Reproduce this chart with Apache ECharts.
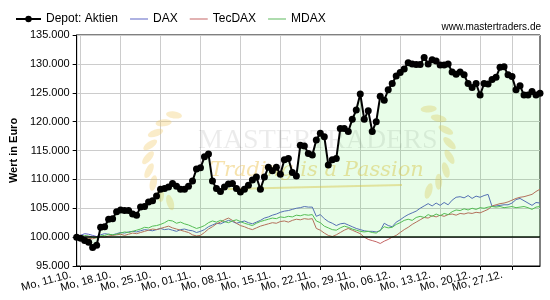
<!DOCTYPE html>
<html>
<head>
<meta charset="utf-8">
<script src="https://cdn.jsdelivr.net/npm/echarts@6/dist/echarts.min.js"></script>
<style>
html, body { margin: 0; padding: 0; background: #fff; }
#chart { width: 550px; height: 300px; }
</style>
</head>
<body>
<div id="chart"></div>
<script>
// Werte in Tausend Euro, zwei Punkte je Handelstag (Start = 100.000)
var depot = [
	100.0, 99.8, 99.4, 99.1, 98.2, 98.6, 101.7, 101.8, 103.1, 103.2,
	104.4, 104.7, 104.6, 104.6, 104.0, 103.8, 105.2, 105.3, 106.1, 106.3,
	107.1, 108.3, 108.4, 108.7, 109.3, 108.8, 108.3, 108.3, 108.8, 109.7,
	111.8, 112.0, 113.9, 114.4, 109.7, 108.4, 107.9, 108.7, 109.2, 109.3,
	108.4, 107.8, 108.3, 109.0, 109.9, 110.4, 108.3, 110.4, 112.1, 111.5,
	112.1, 110.9, 113.4, 113.6, 111.2, 110.6, 115.9, 115.8, 114.5, 114.2,
	116.8, 118.0, 117.4, 112.5, 113.4, 113.6, 118.8, 118.8, 118.3, 120.4,
	122.0, 124.8, 120.4, 121.9, 118.3, 120.0, 124.4, 123.7, 125.5, 126.6,
	127.9, 128.5, 129.1, 130.2, 130.0, 129.9, 129.9, 131.1, 130.0, 130.7,
	130.5, 129.8, 129.8, 130.0, 128.6, 128.2, 128.6, 128.1, 126.6, 125.9,
	126.6, 124.6, 126.6, 126.5, 127.3, 127.7, 129.4, 129.5, 128.1, 127.8,
	125.5, 126.2, 124.6, 124.6, 125.2, 124.6, 124.9
];
var dax = [
	100.0, 100.3, 100.6, 100.5, 100.3, 100.1, 100.4, 100.6, 100.5, 100.4,
	100.6, 100.8, 100.7, 100.9, 101.0, 100.9, 101.1, 101.3, 101.2, 101.1,
	101.3, 101.5, 101.3, 101.4, 101.2, 101.0, 101.3, 101.4, 101.2, 101.1,
	100.8, 101.0, 101.3, 101.8, 102.1, 102.4, 102.3, 102.6, 102.9, 102.7,
	102.4, 102.6, 102.8, 102.5, 102.3, 102.6, 102.9, 103.3, 103.5, 103.8,
	104.0, 104.3, 104.5, 104.6, 104.8, 105.0, 105.1, 105.3, 105.2, 105.2,
	103.6, 103.9, 103.2, 102.7, 102.4, 102.0, 102.3, 102.4, 102.1, 101.8,
	101.5, 101.3, 101.1, 101.0, 101.0, 100.9, 101.1, 102.4, 102.0, 101.8,
	102.6, 103.0, 103.5, 103.9, 104.2, 104.5, 105.0, 105.4, 105.8, 105.4,
	105.9, 105.5, 106.0, 105.6, 106.4, 106.9, 107.0, 106.8, 107.2, 106.7,
	107.1, 106.9, 107.2, 107.4, 105.3, 105.4, 105.5, 105.6, 105.6, 105.9,
	106.5, 106.7, 106.3, 105.9, 105.5, 106.0, 105.9
];
var tecdax = [
	100.0, 99.8, 99.6, 99.8, 99.7, 99.9, 100.1, 100.0, 100.2, 100.3,
	100.4, 100.5, 100.3, 100.5, 100.7, 100.6, 100.8, 101.0, 101.2, 101.4,
	101.3, 101.5, 101.7, 101.9, 101.6, 101.4, 101.2, 101.0, 100.8, 100.4,
	100.2, 100.3, 100.8, 101.4, 101.8, 102.3, 102.6, 103.0, 103.3, 102.9,
	102.4, 102.0, 101.8, 101.5, 101.3, 101.6, 101.9, 102.1, 102.3, 102.5,
	102.4, 102.7, 102.8, 102.6, 102.9, 103.1, 103.0, 103.2, 103.1, 103.2,
	101.5, 101.2, 100.7, 100.3, 100.1, 100.4, 100.8, 101.2, 101.5, 101.2,
	100.9, 100.6, 100.0, 99.6, 99.4, 99.2, 98.9, 99.3, 99.6, 100.0,
	100.3, 100.8, 101.3, 101.7, 102.2, 102.6, 103.0, 103.4, 103.3, 103.7,
	103.5, 103.8, 103.6, 103.9, 104.0, 103.8, 104.1, 104.0, 104.2, 104.1,
	104.3, 104.2, 104.5, 104.8, 105.4, 105.6, 105.8, 105.9, 106.1, 106.4,
	106.7, 106.9, 107.0, 107.2, 107.4, 107.9, 108.3
];
var mdax = [
	100.0, 100.1, 100.3, 100.2, 100.0, 99.9, 100.2, 100.3, 100.5, 100.4,
	100.5, 100.7, 100.9, 100.8, 101.0, 101.2, 101.4, 101.7, 101.6, 101.9,
	102.0, 102.2, 102.5, 102.9, 102.8, 102.4, 102.6, 102.3, 102.1, 101.8,
	101.5, 101.7, 102.0, 102.5, 102.8, 102.6, 102.9, 102.7, 102.5, 102.8,
	103.0, 102.7, 102.4, 102.2, 102.0, 102.4, 102.7, 102.9, 103.1, 103.3,
	103.2, 103.5, 103.4, 103.6, 103.5, 103.8, 103.7, 103.9, 103.8, 103.9,
	102.8, 102.5, 101.9, 101.6, 101.3, 101.2, 101.6, 101.9, 101.7, 101.4,
	101.2, 101.0, 100.9, 101.0, 100.8, 100.7, 101.2, 101.8, 101.6, 101.7,
	102.2, 102.5, 102.9, 103.1, 102.9, 103.4, 103.6, 103.4, 103.9, 103.6,
	104.0, 103.7, 104.1, 103.9, 104.4, 104.7, 104.6, 104.9, 104.7, 105.0,
	104.8, 105.1, 105.0, 105.2, 105.3, 105.2, 105.3, 105.1, 105.2, 105.3,
	105.1, 105.2, 105.3, 105.1, 104.8, 105.2, 105.3
];
// Montage als Handelstag-Index, mit Beschriftung
var tickDays = [0, 5, 10, 15, 20, 25, 30, 35, 40, 45, 50, 54];
var tickLabels = ['Mo, 11.10.', 'Mo, 18.10.', 'Mo, 25.10.', 'Mo, 01.11.', 'Mo, 08.11.', 'Mo, 15.11.',
	'Mo, 22.11.', 'Mo, 29.11.', 'Mo, 06.12.', 'Mo, 13.12.', 'Mo, 20.12.', 'Mo, 27.12.'];
var yTicks = [95, 100, 105, 110, 115, 120, 125, 130, 135];

var tickPos = tickDays.map(function(d){ return d * 2 + 1; });
// Beschriftungen abwechselnd auf zwei Achsen, damit keine ausgeblendet wird
var labelPosA = tickPos.filter(function(p, i){ return i % 2 === 0; });
var labelPosB = tickPos.filter(function(p, i){ return i % 2 === 1; });

function toPoints(arr){
	return arr.map(function(v, i){ return [i, v]; });
}

// Lorbeerblaetter fuer das Wasserzeichen
function laurel(cx, cy, r, a0, a1, n, flip){
	var out = [];
	for (var i = 0; i < n; i++) {
		var a = (a0 + (a1 - a0) * i / (n - 1)) * Math.PI / 180;
		out.push({
			type: 'ellipse',
			silent: true,
			z: 1,
			x: cx + r * Math.cos(a),
			y: cy - r * Math.sin(a),
			rotation: a + (flip ? -0.9 : 0.9),
			shape: { cx: 0, cy: 0, rx: 8, ry: 3.5 },
			style: { fill: 'rgba(240,200,100,0.35)' }
		});
	}
	return out;
}

var font = 'Liberation Sans, Arial, sans-serif';
var lineIcon = 'path://M0,0L0,0M7,3.5L25,3.5L25,4.5L7,4.5ZM25,8L25,8';

var graphics = [{
	type: 'text',
	right: 9,
	top: 22,
	style: { text: 'www.mastertraders.de', font: '10px ' + font, fill: '#000' }
}, {
	type: 'text',
	left: 198,
	top: 127,
	z: 1,
	silent: true,
	style: { text: 'MASTERTRADERS', font: '28px "Liberation Serif", serif', fill: 'rgba(0,0,0,0.08)' }
}, {
	type: 'text',
	left: 210,
	top: 160,
	z: 1,
	silent: true,
	style: { text: 'Trading is a Passion', font: 'italic 21px "DejaVu Serif", serif', fill: 'rgba(235,190,70,0.45)' }
}, {
	type: 'line',
	z: 1,
	silent: true,
	shape: { x1: 228, y1: 189, x2: 402, y2: 185 },
	style: { stroke: 'rgba(235,190,70,0.45)', lineWidth: 2 }
}];
graphics = graphics.concat(laurel(200, 160, 52, 120, 235, 9, false));
graphics = graphics.concat(laurel(400, 150, 50, 55, -55, 8, true));

function labelText(v){
	return tickLabels[tickPos.indexOf(v)] || '';
}

var xLabelBase = {
	interval: 0,
	showMinLabel: true,
	showMaxLabel: true,
	hideOverlap: false,
	rotate: 15,
	fontSize: 11,
	color: '#000',
	margin: 6,
	padding: [0, 10, 0, 0],
	formatter: labelText
};

var myChart = echarts.init(document.getElementById('chart'));
var option = {
	animation: false,
	textStyle: { fontFamily: font },
	legend: {
		left: 10,
		top: 8,
		itemWidth: 25,
		itemHeight: 8,
		itemGap: 5,
		textStyle: { fontSize: 12, color: '#000', fontFamily: font },
		data: [
			{ name: 'Depot: Aktien' },
			{ name: 'DAX', icon: lineIcon },
			{ name: 'TecDAX', icon: lineIcon },
			{ name: 'MDAX', icon: lineIcon }
		]
	},
	grid: {
		left: 66,
		right: 10,
		top: 35,
		bottom: 34,
		show: true,
		borderColor: '#000',
		borderWidth: 1
	},
	graphic: graphics,
	xAxis: [{
		type: 'value',
		position: 'bottom',
		min: 0,
		max: depot.length - 1,
		axisLine: { lineStyle: { color: '#000', width: 1 } },
		axisTick: {
			show: true,
			length: 4,
			customValues: tickPos,
			lineStyle: { color: '#000' }
		},
		axisLabel: Object.assign({ customValues: labelPosA }, xLabelBase),
		splitLine: { show: true, lineStyle: { color: '#cccccc' } }
	}, {
		type: 'value',
		position: 'bottom',
		offset: 0,
		min: 0,
		max: depot.length - 1,
		axisLine: { show: false },
		axisTick: { show: false, customValues: labelPosB },
		axisLabel: Object.assign({ customValues: labelPosB }, xLabelBase),
		splitLine: { show: false }
	}],
	yAxis: {
		type: 'value',
		min: yTicks[0],
		max: yTicks[yTicks.length - 1],
		interval: 5,
		name: 'Wert in Euro',
		nameLocation: 'middle',
		nameGap: 48,
		nameTextStyle: { fontWeight: 'bold', fontSize: 11, color: '#000' },
		axisLine: { show: true, lineStyle: { color: '#000', width: 1 } },
		axisTick: { show: true, length: 4, lineStyle: { color: '#000' } },
		axisLabel: {
			fontSize: 11,
			color: '#000',
			margin: 7,
			formatter: function(v){ return v + '.000'; }
		},
		splitLine: { show: true, lineStyle: { color: '#cccccc' } }
	},
	series: [{
		name: 'Depot: Aktien',
		type: 'line',
		z: 5,
		data: toPoints(depot),
		symbol: 'circle',
		symbolSize: 7,
		lineStyle: { color: '#000', width: 2 },
		itemStyle: { color: '#000' },
		areaStyle: { color: 'rgba(0,235,0,0.13)', origin: 100 },
		markLine: {
			silent: true,
			symbol: 'none',
			label: { show: false },
			lineStyle: { color: '#000', width: 1.5, type: 'solid' },
			data: [{ yAxis: 100 }]
		}
	}, {
		name: 'DAX',
		type: 'line',
		z: 3,
		data: toPoints(dax),
		symbol: 'none',
		lineStyle: { color: '#5c64c4', width: 1 },
		itemStyle: { color: '#5c64c4' }
	}, {
		name: 'TecDAX',
		type: 'line',
		z: 3,
		data: toPoints(tecdax),
		symbol: 'none',
		lineStyle: { color: '#c46464', width: 1 },
		itemStyle: { color: '#c46464' }
	}, {
		name: 'MDAX',
		type: 'line',
		z: 3,
		data: toPoints(mdax),
		symbol: 'none',
		lineStyle: { color: '#5cb85c', width: 1 },
		itemStyle: { color: '#5cb85c' }
	}]
};

myChart.setOption(option);
window.addEventListener("resize", function(){
	myChart.resize();
});
</script>
</body>
</html>
